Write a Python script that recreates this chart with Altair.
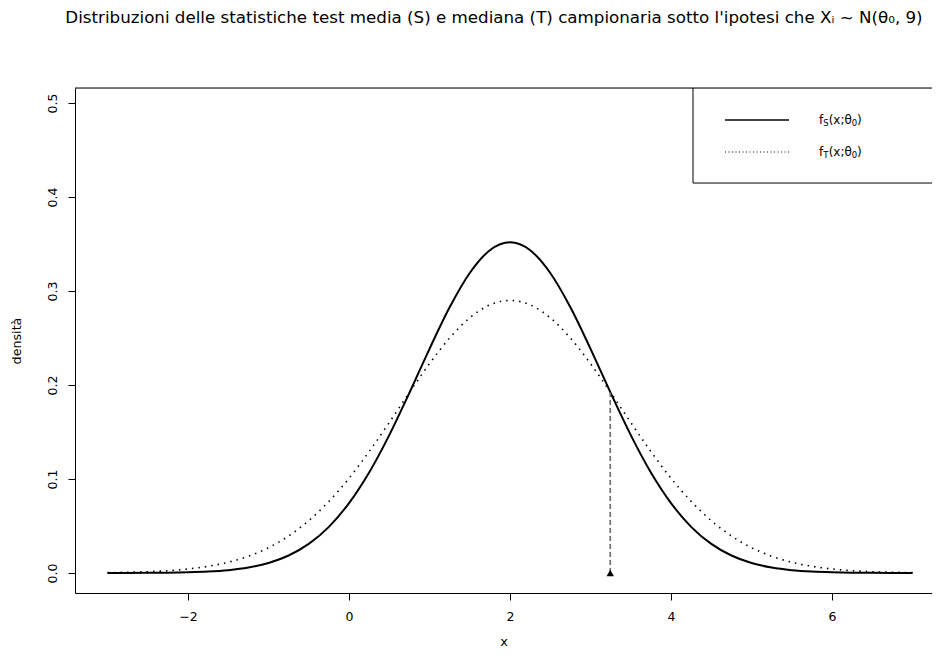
import altair as alt
import pandas as pd

# ---- data ----
x_vals = [-3.0, -2.75, -2.5, -2.25, -2.0, -1.75, -1.5, -1.25, -1.0, -0.75, -0.5, -0.25,
          0.0, 0.25, 0.5, 0.75, 1.0, 1.25, 1.5, 1.75, 2.0, 2.25, 2.5, 2.75, 3.0, 3.25,
          3.5, 3.75, 4.0, 4.25, 4.5, 4.75, 5.0, 5.25, 5.5, 5.75, 6.0, 6.25, 6.5, 6.75, 7.0]

f_S = [0.00002, 0.00005, 0.00013, 0.00031, 0.00070, 0.00148, 0.00300, 0.00579, 0.01062,
       0.0186, 0.0309, 0.0491, 0.0743, 0.1069, 0.1467, 0.1916, 0.2385, 0.2827, 0.3192,
       0.3434, 0.3518, 0.3434, 0.3192, 0.2827, 0.2385, 0.1916, 0.1467, 0.1069, 0.0743,
       0.0491, 0.0309, 0.0186, 0.01062, 0.00579, 0.00300, 0.00148, 0.00070, 0.00031,
       0.00013, 0.00005, 0.00002]

f_T = [0.00039, 0.00075, 0.00138, 0.00246, 0.00424, 0.0071, 0.0114, 0.0178, 0.0269,
       0.0394, 0.0557, 0.0762, 0.1008, 0.1292, 0.1601, 0.1920, 0.2227, 0.2500, 0.2715,
       0.2853, 0.2900, 0.2853, 0.2715, 0.2500, 0.2227, 0.1920, 0.1601, 0.1292, 0.1008,
       0.0762, 0.0557, 0.0394, 0.0269, 0.0178, 0.0114, 0.0071, 0.00424, 0.00246,
       0.00138, 0.00075, 0.00039]

crit_x = [3.245]
crit_y = [0.192]

x_ticks = [-2, 0, 2, 4, 6]
y_ticks = [0.0, 0.1, 0.2, 0.3, 0.4, 0.5]

legend_labels = ["S", "T"]
legend_y = [0.4819, 0.4479]

# ---- layout ----
W, H = 857, 505
X_DOM = [-3.404, 7.242]
Y_DOM = [-0.0213, 0.516]
FONT = "DejaVu Sans"

curves = pd.DataFrame({"x": x_vals, "fS": f_S, "fT": f_T})

xs = alt.Scale(domain=X_DOM, nice=False, zero=False)
ys = alt.Scale(domain=Y_DOM, nice=False, zero=False)

x_axis = alt.Axis(values=x_ticks, title="x", grid=False, domainColor="black", tickColor="black",
                  tickSize=7, labelPadding=10, labelFontSize=12.5, titleFontSize=13,
                  titleFontWeight="normal", titlePadding=13, labelColor="black",
                  titleColor="black", labelFont=FONT, titleFont=FONT, labelFlush=False,
                  format="d")
y_axis = alt.Axis(values=y_ticks, title="densità", grid=False, domainColor="black",
                  tickColor="black", tickSize=7, labelPadding=9, labelFontSize=12.5,
                  titleFontSize=12.7, titleFontWeight="normal", titlePadding=23,
                  labelAngle=270, labelAlign="center", labelBaseline="bottom",
                  format=".1f", labelColor="black", titleColor="black",
                  labelFont=FONT, titleFont=FONT, labelFlush=False)

base = alt.Chart(curves)

solid = base.mark_line(color="black", strokeWidth=2, interpolate="monotone", clip=True).encode(
    x=alt.X("x:Q", scale=xs, axis=x_axis),
    y=alt.Y("fS:Q", scale=ys, axis=y_axis),
)
dotted = base.mark_line(color="black", strokeWidth=1.6, strokeDash=[1.5, 5],
                        interpolate="monotone", clip=True).encode(
    x=alt.X("x:Q", scale=xs),
    y=alt.Y("fT:Q", scale=ys),
)

crit = pd.DataFrame({"x": crit_x, "y": crit_y, "y0": [0.0]})
vline = alt.Chart(crit).mark_rule(color="#6e6e6e", strokeWidth=1.6, strokeDash=[5, 3]).encode(
    x=alt.X("x:Q", scale=xs), y=alt.Y("y0:Q", scale=ys), y2="y:Q"
)
tri = alt.Chart(crit).mark_point(shape="triangle-up", filled=True, color="black",
                                 opacity=1, size=55).encode(
    x=alt.X("x:Q", scale=xs), y=alt.Y("y0:Q", scale=ys)
)

# frame top line
frame_top = alt.Chart(crit).mark_rule(color="black", strokeWidth=1).encode(
    x=alt.value(0), x2=alt.value(W), y=alt.value(0)
)

# legend box
box = pd.DataFrame({"x0": [4.273], "x1": [X_DOM[1]], "yb": [0.4149], "yt": [Y_DOM[1]]})
box_left = alt.Chart(box).mark_rule(color="black", strokeWidth=1).encode(
    x=alt.X("x0:Q", scale=xs), y=alt.Y("yb:Q", scale=ys), y2="yt:Q"
)
box_bottom = alt.Chart(box).mark_rule(color="black", strokeWidth=1).encode(
    x=alt.X("x0:Q", scale=xs), x2="x1:Q", y=alt.Y("yb:Q", scale=ys)
)

leg = pd.DataFrame({"lab": legend_labels, "y": legend_y, "x0": [4.671, 4.671],
                    "x1": [5.466, 5.466], "xt": [5.839, 5.839]})
leg_solid = alt.Chart(leg.iloc[[0]]).mark_rule(color="black", strokeWidth=1.5).encode(
    x=alt.X("x0:Q", scale=xs), x2="x1:Q", y=alt.Y("y:Q", scale=ys)
)
leg_dot = alt.Chart(leg.iloc[[1]]).mark_rule(color="black", strokeWidth=1.2,
                                             strokeDash=[1, 2.5]).encode(
    x=alt.X("x0:Q", scale=xs), x2="x1:Q", y=alt.Y("y:Q", scale=ys)
)

def piece(txt, dx, dy, size):
    return alt.Chart(leg).mark_text(align="left", baseline="middle", dx=dx, dy=dy,
                                    fontSize=size, font=FONT, color="black").encode(
        x=alt.X("xt:Q", scale=xs), y=alt.Y("y:Q", scale=ys), text=alt.value(txt)
    )

leg_f = piece("f", 0, 0, 12)
leg_sub = alt.Chart(leg).mark_text(align="left", baseline="middle", dx=4.2, dy=3,
                                   fontSize=8.5, font=FONT, color="black").encode(
    x=alt.X("xt:Q", scale=xs), y=alt.Y("y:Q", scale=ys), text="lab:N"
)
leg_mid = piece("(x;θ", 9.6, 0, 12)
leg_zero = piece("0", 32.6, 3, 8.5)
leg_end = piece(")", 38, 0, 12)

chart = alt.layer(
    solid, dotted, vline, tri, frame_top, box_left, box_bottom, leg_solid, leg_dot,
    leg_f, leg_sub, leg_mid, leg_zero, leg_end
).properties(
    width=W, height=H,
    title=alt.TitleParams(
        "Distribuzioni delle statistiche test media (S) e mediana (T) campionaria sotto l'ipotesi che Xᵢ ~ N(θ₀, 9)",
        fontSize=16.7, fontWeight="normal", font=FONT, color="black", anchor="middle",
        offset=61, dx=-9.5,
    ),
    padding={"left": 67, "top": 80, "right": 0, "bottom": 57},
    autosize=alt.AutoSizeParams(type="none"),
).configure_view(stroke=None).configure(background="white")

chart.save("out.html", embed_options={"renderer": "svg", "actions": False})
